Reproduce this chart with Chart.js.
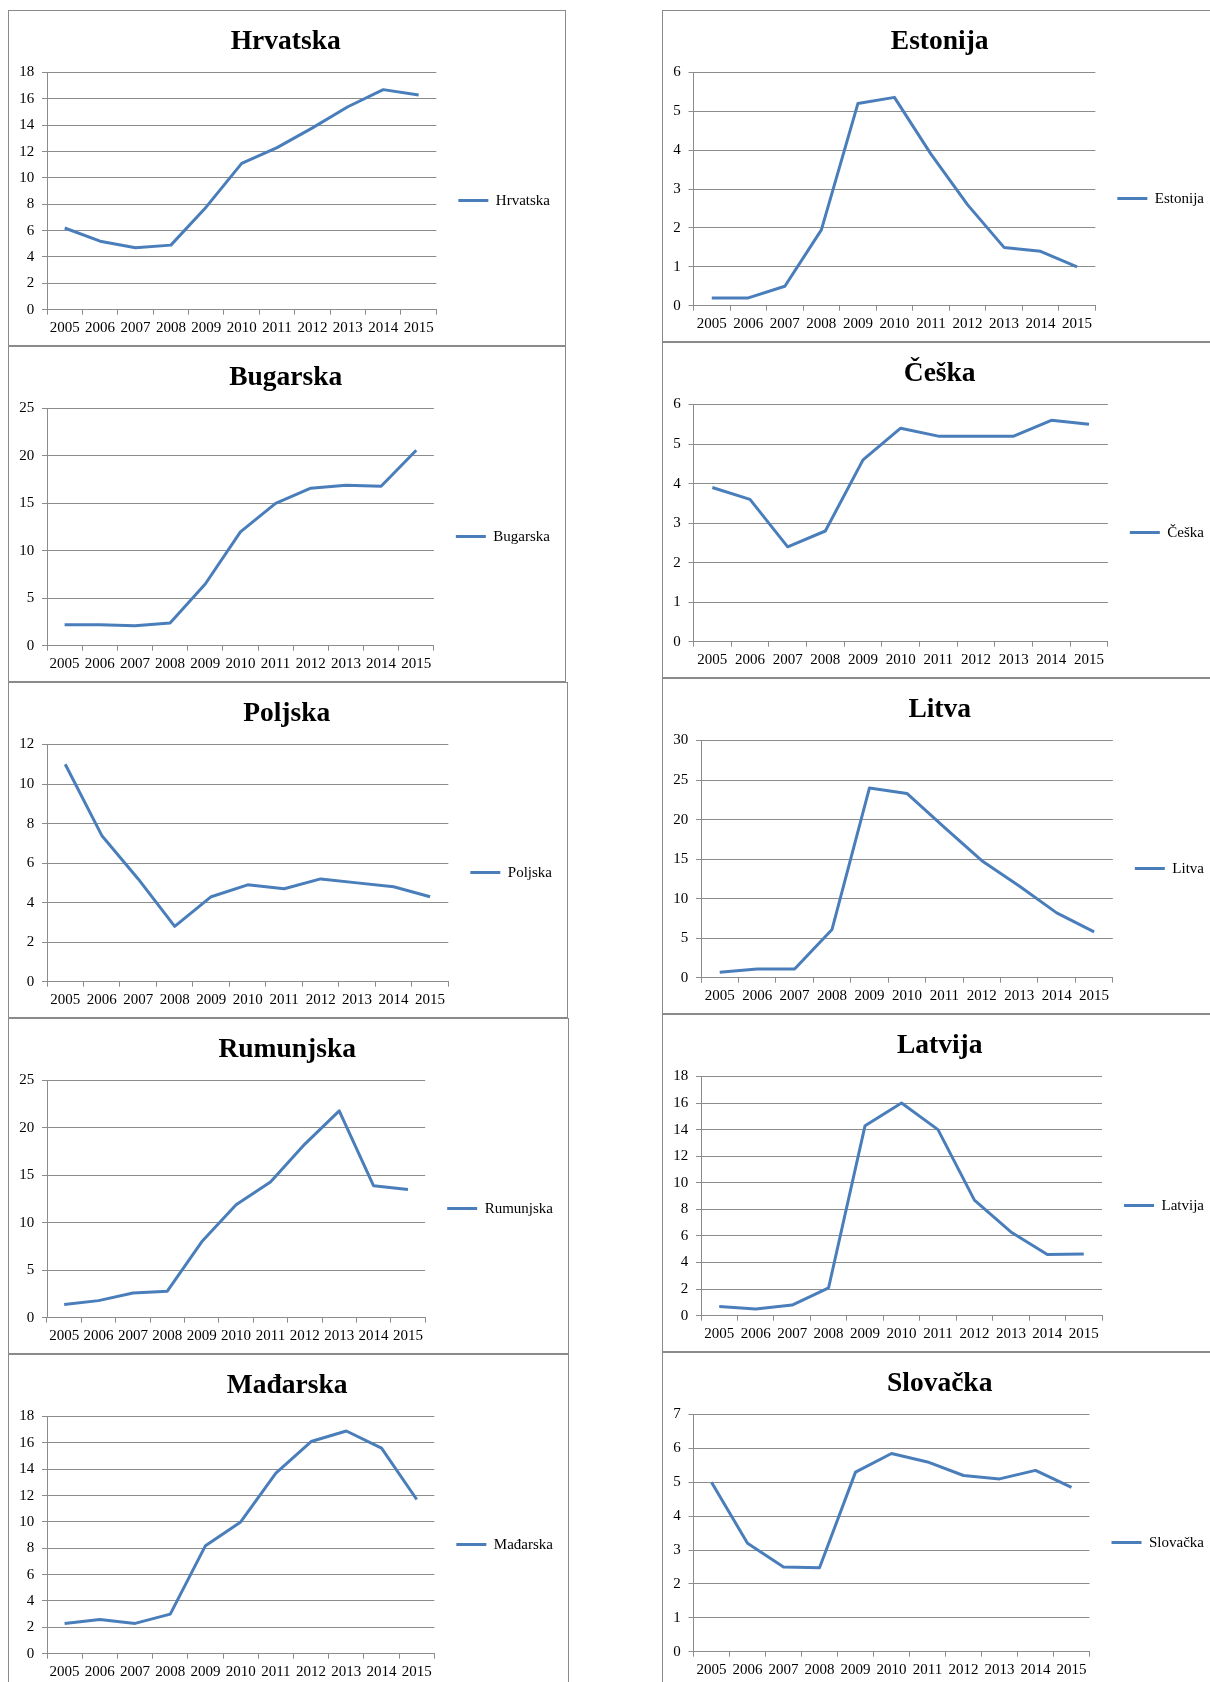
<!DOCTYPE html>
<html>
<head>
<meta charset="utf-8">
<script src="https://cdn.jsdelivr.net/npm/chart.js@4.4.1/dist/chart.umd.min.js"></script>
<style>
  html, body { margin: 0; padding: 0; background: #fff; }
  body { width: 1210px; height: 1682px; overflow: hidden; position: relative; }
  .panel { position: absolute; box-sizing: border-box; border: 1px solid #8a8a8a; background: #fff; }
  .panel canvas { display: block; }
  #hr { left: 8px;   top: 10px;   width: 558px; height: 336px; }
  #bg { left: 8px;   top: 346px;  width: 558px; height: 336px; }
  #pl { left: 8px;   top: 682px;  width: 560px; height: 336px; }
  #ro { left: 8px;   top: 1018px; width: 561px; height: 336px; }
  #hu { left: 8px;   top: 1354px; width: 561px; height: 336px; }
  #ee { left: 662px; top: 10px;   width: 558px; height: 332px; }
  #cz { left: 662px; top: 342px;  width: 558px; height: 336px; }
  #lt { left: 662px; top: 678px;  width: 558px; height: 336px; }
  #lv { left: 662px; top: 1014px; width: 558px; height: 338px; }
  #sk { left: 662px; top: 1352px; width: 558px; height: 336px; }
</style>
</head>
<body>
<div class="panel" id="hr"><canvas id="c-hr"></canvas></div>
<div class="panel" id="bg"><canvas id="c-bg"></canvas></div>
<div class="panel" id="pl"><canvas id="c-pl"></canvas></div>
<div class="panel" id="ro"><canvas id="c-ro"></canvas></div>
<div class="panel" id="hu"><canvas id="c-hu"></canvas></div>
<div class="panel" id="ee"><canvas id="c-ee"></canvas></div>
<div class="panel" id="cz"><canvas id="c-cz"></canvas></div>
<div class="panel" id="lt"><canvas id="c-lt"></canvas></div>
<div class="panel" id="lv"><canvas id="c-lv"></canvas></div>
<div class="panel" id="sk"><canvas id="c-sk"></canvas></div>
<script>
// godine
const years = ['2005', '2006', '2007', '2008', '2009', '2010', '2011', '2012', '2013', '2014', '2015'];

// vrijednosti po zemljama (očitano s grafa)
const hrvatska  = [6.2, 5.2, 4.7, 4.9, 7.8, 11.1, 12.3, 13.8, 15.4, 16.7, 16.3];
const bugarska  = [2.2, 2.2, 2.1, 2.4, 6.5, 12.0, 15.0, 16.6, 16.9, 16.8, 20.6];
const poljska   = [11.0, 7.4, 5.2, 2.8, 4.3, 4.9, 4.7, 5.2, 5.0, 4.8, 4.3];
const rumunjska = [1.4, 1.8, 2.6, 2.8, 8.0, 11.9, 14.3, 18.3, 21.8, 13.9, 13.5];
const madarska  = [2.3, 2.6, 2.3, 3.0, 8.2, 10.0, 13.7, 16.1, 16.9, 15.6, 11.7];
const estonija  = [0.2, 0.2, 0.5, 1.95, 5.2, 5.36, 3.9, 2.6, 1.5, 1.4, 1.0];
const ceska     = [3.9, 3.6, 2.4, 2.8, 4.6, 5.4, 5.2, 5.2, 5.2, 5.6, 5.5];
const litva     = [0.7, 1.1, 1.1, 6.1, 24.0, 23.3, 19.0, 14.8, 11.6, 8.2, 5.8];
const latvija   = [0.7, 0.5, 0.8, 2.1, 14.3, 16.0, 14.0, 8.7, 6.3, 4.6, 4.65];
const slovacka  = [5.0, 3.2, 2.5, 2.48, 5.3, 5.85, 5.6, 5.2, 5.1, 5.35, 4.85];

// maksimumi i koraci y osi
const yMax  = { hr: 18, bg: 25, pl: 12, ro: 25, hu: 18, ee: 6, cz: 6, lt: 30, lv: 18, sk: 7 };
const yStep = { hr: 2,  bg: 5,  pl: 2,  ro: 5,  hu: 2,  ee: 1, cz: 1, lt: 5,  lv: 2,  sk: 1 };

const serif = '"Liberation Serif", "Times New Roman", serif';
const lineColor = '#4A7EBB';
const gridColor = '#8c8c8c';

function drawChart(key, title, values) {
  const ctx = document.getElementById('c-' + key);
  new Chart(ctx, {
    type: 'line',
    data: {
      labels: years,
      datasets: [{
        label: title,
        data: values,
        borderColor: lineColor,
        backgroundColor: lineColor,
        borderWidth: 3,
        pointRadius: 0,
        tension: 0,
        borderJoinStyle: 'round'
      }]
    },
    options: {
      responsive: true,
      maintainAspectRatio: false,
      animation: false,
      events: [],
      layout: { padding: { left: 2.4, right: 5, top: 0, bottom: 4.3 } },
      plugins: {
        title: {
          display: true,
          text: title,
          color: '#000',
          font: { family: serif, size: 27.5, weight: 'bold', lineHeight: 1.2 },
          padding: { top: 14.3, bottom: 14.2 }
        },
        legend: {
          position: 'right',
          fullSize: false,
          title: { display: true, text: '', font: { size: 10, lineHeight: 1 }, padding: { top: 4.5, bottom: 4.5 } },
          labels: {
            usePointStyle: true,
            pointStyle: 'line',
            pointStyleWidth: 30,
            padding: 22,
            color: '#000',
            font: { family: serif, size: 15 }
          }
        },
        tooltip: { enabled: false }
      },
      scales: {
        x: {
          offset: true,
          grid: { offset: true, drawOnChartArea: false, tickLength: 5, color: gridColor },
          border: { color: gridColor },
          ticks: { maxRotation: 0, autoSkip: false, padding: 4, color: '#000', font: { family: serif, size: 15 } }
        },
        y: {
          min: 0,
          max: yMax[key],
          grid: { tickLength: 5, color: gridColor },
          border: { color: gridColor },
          ticks: { stepSize: yStep[key], padding: 7.8, color: '#000', font: { family: serif, size: 15 } }
        }
      }
    }
  });
}

drawChart('hr', 'Hrvatska', hrvatska);
drawChart('bg', 'Bugarska', bugarska);
drawChart('pl', 'Poljska', poljska);
drawChart('ro', 'Rumunjska', rumunjska);
drawChart('hu', 'Mađarska', madarska);
drawChart('ee', 'Estonija', estonija);
drawChart('cz', 'Češka', ceska);
drawChart('lt', 'Litva', litva);
drawChart('lv', 'Latvija', latvija);
drawChart('sk', 'Slovačka', slovacka);
</script>
</body>
</html>
